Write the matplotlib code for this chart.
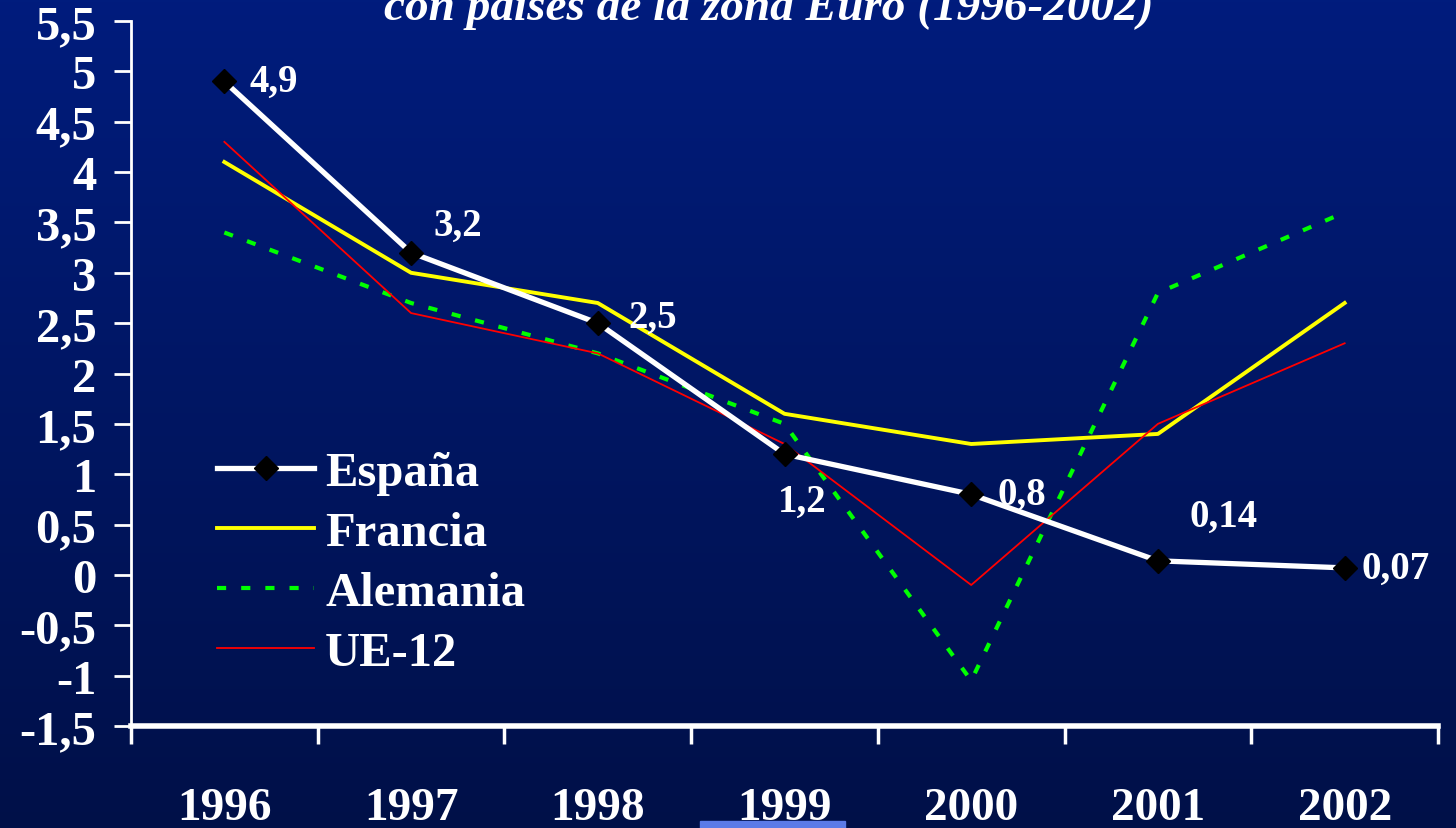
import numpy as np
import matplotlib.pyplot as plt
from matplotlib.patches import Rectangle

plt.rcParams['font.family'] = ['Liberation Serif', 'DejaVu Serif']
plt.rcParams['font.weight'] = 'bold'

years = ['1996', '1997', '1998', '1999', '2000', '2001', '2002']
espana = [4.9, 3.2, 2.5, 1.2, 0.8, 0.14, 0.07]
francia = [4.1, 3.0, 2.7, 1.6, 1.3, 1.4, 2.7]
alemania = [3.4, 2.7, 2.2, 1.5, -1.05, 2.8, 3.6]
ue12 = [4.3, 2.6, 2.2, 1.3, -0.1, 1.5, 2.3]
yticks = [-1.5, -1, -0.5, 0, 0.5, 1, 1.5, 2, 2.5, 3, 3.5, 4, 4.5, 5, 5.5]

# label offsets (points) for the España values
offsets = [(18, 0), (16, 20), (22, 4), (-5, -34), (19, 0), (23, 32), (12, 0)]

fig = plt.figure(figsize=(14.56, 8.29), dpi=100)

# background gradient
bg = fig.add_axes([0, 0, 1, 1], zorder=-10)
top = np.array([0, 28, 125]) / 255
bot = np.array([0, 16, 72]) / 255
t = np.linspace(0, 1, 256)[:, None]
grad = top[None, :] * (1 - t) + bot[None, :] * t
bg.imshow(grad[:, None, :], aspect='auto', extent=[0, 1, 0, 1])
bg.axis('off')
bg.add_patch(Rectangle((700 / 1456, 0), 145 / 1456, 7 / 829, color='#5b7be8'))

ax = fig.add_axes([131 / 1456, 1 - 727 / 829, (1438 - 131) / 1456, 705 / 829])
ax.set_facecolor('none')

x = np.arange(len(years))
ax.plot(x, espana, color='white', lw=3.8, marker='D', ms=12,
        mfc='black', mec='black', label='España', zorder=5)
ax.plot(x, francia, color='#ffff00', lw=2.8, label='Francia', zorder=4)
ax.plot(x, alemania, color='#00ff00', lw=3, linestyle=(0, (2.2, 3.6)),
        label='Alemania', zorder=3)
ax.plot(x, ue12, color='#ff0000', lw=1.3, label='UE-12', zorder=4)

for xi, v, off in zip(x, espana, offsets):
    ax.annotate(str(v).replace('.', ','), (xi, v), xytext=off,
                textcoords='offset points', ha='left', va='center',
                color='white', fontsize=28, fontweight='bold', zorder=6)

ax.set_xlim(-0.5, 6.5)
ax.set_ylim(-1.5, 5.5)
ax.set_yticks(yticks)
ax.set_yticklabels([('%g' % v).replace('.', ',') for v in yticks])
ax.set_xticks(np.arange(-0.5, 7, 1))
ax.set_xticklabels([])
ax.set_xticks(x, minor=True)
ax.set_xticklabels(years, minor=True)

ax.tick_params(axis='y', colors='white', length=12, width=2, pad=13,
               labelsize=35)
ax.tick_params(axis='x', which='major', colors='white', length=13, width=2.5)
ax.tick_params(axis='x', which='minor', colors='white', length=0, pad=44,
               labelsize=34)

for s in ['top', 'right']:
    ax.spines[s].set_visible(False)
ax.spines['left'].set_color('white')
ax.spines['left'].set_linewidth(2)
ax.spines['bottom'].set_color('white')
ax.spines['bottom'].set_linewidth(4)

leg = ax.legend(loc='upper left', bbox_to_anchor=(0.066, 0.39), frameon=False,
                fontsize=35, handlelength=2.0, handletextpad=0.22,
                labelspacing=0.33, borderpad=0, borderaxespad=0)
for txt in leg.get_texts():
    txt.set_color('white')

fig.text(0.528, 1 - 20 / 829, 'con países de la zona Euro (1996-2002)',
         ha='center', va='baseline', color='white', fontsize=34,
         fontstyle='italic', fontweight='bold')

fig.savefig('out.png', dpi=100)
